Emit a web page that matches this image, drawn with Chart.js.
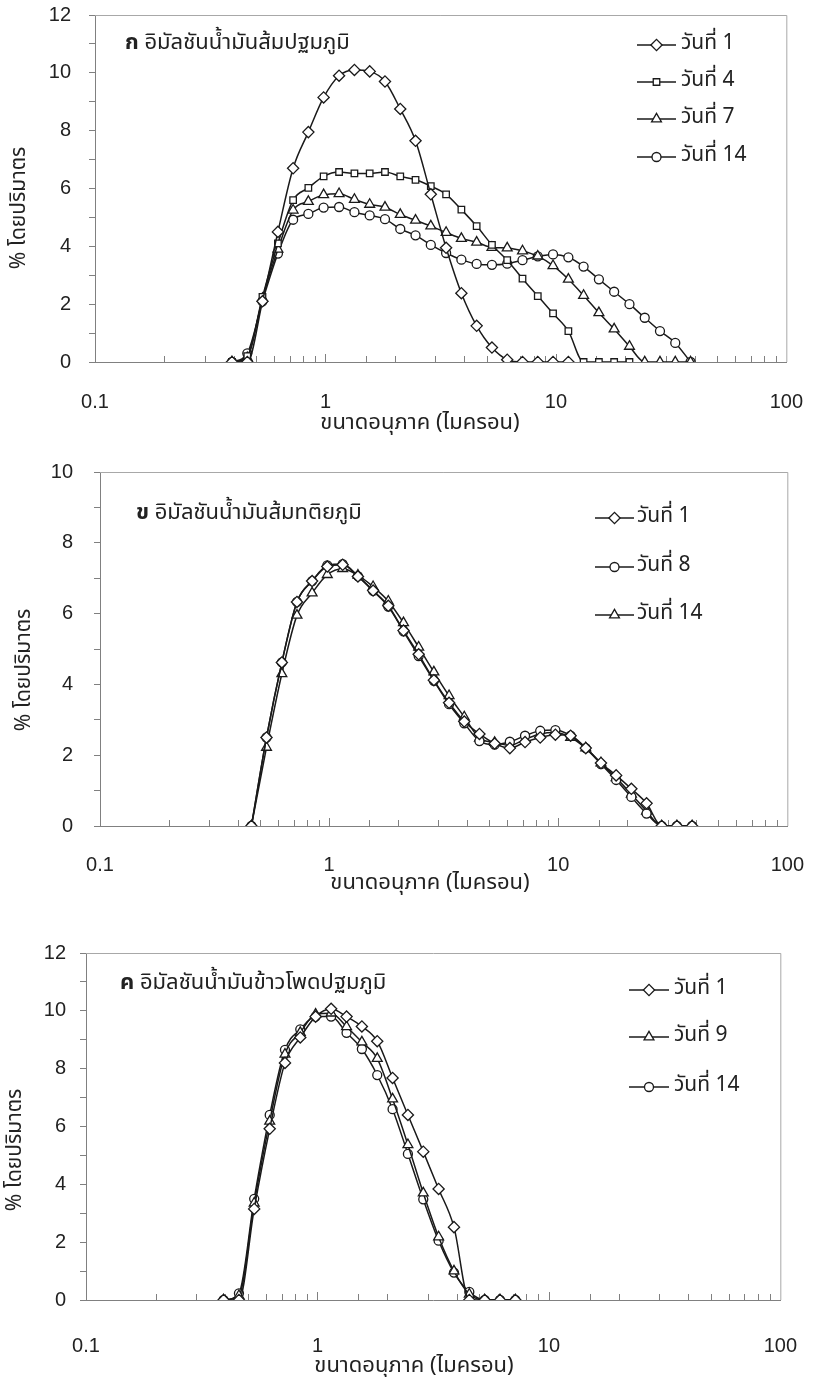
<!DOCTYPE html>
<html><head><meta charset="utf-8">
<script src="https://cdn.jsdelivr.net/npm/chart.js@4.4.0/dist/chart.umd.min.js"></script>
<style>
html,body{margin:0;padding:0;background:#fff;width:823px;height:1377px;overflow:hidden;position:relative}
canvas{position:absolute;left:0}
</style></head><body>
<canvas id="c1"></canvas>
<canvas id="c2"></canvas>
<canvas id="c3"></canvas>
<script>
// particle size bins (micron)
const sizes = [0.393,0.458,0.533,0.622,0.724,0.843,0.982,1.146,1.336,1.556,1.813,2.112,2.46,2.866,3.339,3.89,4.531,5.279,6.149,7.164,8.345,9.72,11.33,13.19,15.37,17.9,20.86,24.3,28.3,32.97,38.41];
const xTickLabels = [0.1, 1, 10, 100];

// Chart ก (starts at sizes[0])
const a_day1  = [0,0,2.1,4.5,6.7,7.95,9.15,9.9,10.1,10.05,9.7,8.75,7.65,5.8,3.95,2.38,1.25,0.5,0.08,0,0,0,0];
const a_day4  = [0,0.2,2.25,4.1,5.6,6.02,6.42,6.57,6.52,6.52,6.57,6.42,6.3,6.08,5.8,5.27,4.7,4.05,3.52,2.88,2.28,1.68,1.07,0,0,0,0];
const a_day7  = [0,0.15,2.2,3.9,5.25,5.55,5.78,5.82,5.62,5.45,5.35,5.1,4.9,4.7,4.48,4.27,4.14,3.96,3.94,3.84,3.66,3.33,2.86,2.3,1.7,1.14,0.54,0,0,0,0];
const a_day14 = [0,0.3,2.1,3.75,4.92,5.12,5.34,5.36,5.18,5.07,4.94,4.6,4.38,4.05,3.77,3.54,3.39,3.36,3.4,3.52,3.65,3.72,3.62,3.3,2.86,2.43,2.0,1.53,1.07,0.66,0];
// Chart ข (starts at sizes[1])
const b_day1  = [0,2.5,4.62,6.33,6.92,7.33,7.38,7.05,6.65,6.22,5.52,4.85,4.12,3.48,2.95,2.6,2.33,2.2,2.37,2.5,2.58,2.55,2.2,1.78,1.43,1.05,0.64,0,0,0];
const b_day8  = [0,2.5,4.62,6.33,6.92,7.36,7.4,7.06,6.64,6.2,5.5,4.8,4.1,3.44,2.9,2.4,2.3,2.38,2.55,2.69,2.71,2.55,2.2,1.75,1.3,0.82,0.35,0,0,0];
const b_day14 = [0,2.22,4.3,5.95,6.58,7.1,7.27,7.08,6.76,6.35,5.74,5.05,4.35,3.68,3.08,2.48,2.36,2.28,2.45,2.6,2.64,2.5,2.2,1.78,1.36,0.9,0.42,0,0,0];
// Chart ค (starts at sizes[0])
const c_day1  = [0,0,3.15,5.92,8.2,9.08,9.8,10.07,9.8,9.46,8.95,7.68,6.4,5.13,3.84,2.52,0,0,0,0];
const c_day9  = [0,0.15,3.35,6.18,8.5,9.25,9.88,9.92,9.45,8.92,8.35,6.95,5.37,3.7,2.18,1.0,0.2,0,0,0];
const c_day14 = [0,0.23,3.5,6.4,8.65,9.36,9.8,9.8,9.24,8.68,7.78,6.6,5.05,3.48,2.05,0.95,0.28,0,0,0];

const NUMF = "'Liberation Sans', Arial, sans-serif";
const THF = "'Noto Sans Thai','Loma','Garuda','Norasi','Tlwg Typo','Noto Sans','DejaVu Sans',sans-serif";
const INK = '#1a1a1a';

function pts(vals, start){ return vals.map((v,i)=>({x:sizes[start+i], y:v})); }

const STYLE = {
  diamond:{pointStyle:'rectRot', pointRadius:5.6},
  square:{pointStyle:'rect', pointRadius:4.6},
  triangle:{pointStyle:'triangle', pointRadius:5.7},
  circle:{pointStyle:'circle', pointRadius:4.5}
};

function ds(label, data, shape){
  return Object.assign({
    label, data,
    borderColor:INK, borderWidth:1.5,
    pointBackgroundColor:'#fff', pointBorderColor:INK, pointBorderWidth:1.3,
    cubicInterpolationMode:'monotone', fill:false
  }, STYLE[shape], {pointHoverRadius:STYLE[shape].pointRadius});
}

// all positions in cfg are page coordinates
function make(id, cfg){
  const cv = document.getElementById(id);
  const T = cfg.canvasTop, H = cfg.canvasBottom - T;
  cv.width = 823; cv.height = H; cv.style.top = T + 'px';
  const deco = {
    id:'deco'+id,
    beforeDatasetsDraw(chart){
      const ctx = chart.ctx, ca = chart.chartArea, xs = chart.scales.x;
      ctx.save();
      ctx.strokeStyle = '#a8a8a8'; ctx.lineWidth = 1;
      ctx.beginPath();
      ctx.moveTo(ca.left, ca.top+0.5); ctx.lineTo(ca.right+0.5, ca.top+0.5); ctx.lineTo(ca.right+0.5, ca.bottom);
      ctx.stroke();
      ctx.strokeStyle = '#808080';
      ctx.beginPath();
      xs.ticks.forEach(t=>{
        const v = t.value;
        if (v <= 0.1 || v >= 100) return;
        const lg = Math.log10(v);
        const major = Math.abs(lg - Math.round(lg)) < 1e-6;
        const px = Math.round(xs.getPixelForValue(v)) + 0.5;
        ctx.moveTo(px, ca.bottom);
        ctx.lineTo(px, ca.bottom - (major ? 8 : 6));
      });
      ctx.stroke();
      ctx.restore();
    },
    afterDraw(chart){
      const ctx = chart.ctx;
      ctx.save();
      ctx.translate(0, -T);
      ctx.fillStyle = '#222';
      ctx.font = "22px " + THF;
      ctx.textAlign = 'center'; ctx.textBaseline = 'middle';
      ctx.fillText('ขนาดอนุภาค (ไมครอน)', cfg.xTitle[0], cfg.xTitle[1]);
      ctx.font = "21px " + THF;
      ctx.save();
      ctx.translate(cfg.yTitle[0], cfg.yTitle[1]);
      ctx.rotate(-Math.PI/2);
      ctx.fillText('% โดยปริมาตร', 0, 0);
      ctx.restore();
      ctx.textAlign = 'left';
      ctx.font = "bold 22px " + THF;
      ctx.fillText(cfg.tag, cfg.title[0], cfg.title[1]);
      const w = ctx.measureText(cfg.tag + ' ').width;
      ctx.font = "22px " + THF;
      ctx.fillText(cfg.titleText, cfg.title[0] + w, cfg.title[1]);
      chart.data.datasets.forEach((d, i)=>{
        const y = cfg.legend.y[i];
        const [x1, x2, xt] = cfg.legend.x;
        ctx.strokeStyle = INK; ctx.lineWidth = 1.5;
        ctx.beginPath(); ctx.moveTo(x1, y); ctx.lineTo(x2, y); ctx.stroke();
        ctx.fillStyle = '#fff'; ctx.strokeStyle = INK; ctx.lineWidth = 1.3;
        Chart.helpers.drawPoint(ctx, {pointStyle:d.pointStyle, radius:d.pointRadius, borderWidth:1.3, rotation:0}, (x1+x2)/2, y);
        ctx.fillStyle = '#222';
        ctx.font = "21px " + THF;
        ctx.textAlign = 'left'; ctx.textBaseline = 'middle';
        ctx.fillText(d.label, xt, y);
      });
      ctx.restore();
    }
  };
  return new Chart(cv, {
    type:'line',
    data:{datasets:cfg.datasets},
    options:{
      responsive:false, animation:false, events:[],
      layout:{padding:{left:0, right:823-cfg.right, top:cfg.top - T, bottom:0}},
      plugins:{legend:{display:false}, tooltip:{enabled:false}},
      scales:{
        x:{type:'logarithmic', min:0.1, max:100,
          afterFit(s){ s.height = cfg.canvasBottom - cfg.bottom; },
          grid:{display:false},
          border:{display:true, color:'#808080', width:1},
          ticks:{autoSkip:false, maxRotation:0, padding:cfg.xPad, color:'#222',
            font:{family:NUMF, size:20},
            callback(v){ return xTickLabels.some(t=>Math.abs(t-v)/t<1e-6) ? String(v) : ''; }}
        },
        y:{min:0, max:cfg.yMax,
          afterFit(s){ s.width = cfg.left; },
          grid:{display:true, drawOnChartArea:false, drawTicks:true, tickLength:6, color:'#808080'},
          border:{display:true, color:'#808080', width:1},
          ticks:{stepSize:1, padding:cfg.yPad, color:'#222', font:{family:NUMF, size:20},
            callback(v){ return v % 2 === 0 ? String(v) : ''; }}
        }
      }
    },
    plugins:[deco]
  });
}

make('c1', {
  canvasTop:-25, canvasBottom:440,
  left:95, right:805, top:15, bottom:362, yMax:12, xPad:20, yPad:18,
  datasets:[ds('วันที่ 1', pts(a_day1,0),'diamond'), ds('วันที่ 4', pts(a_day4,0),'square'),
            ds('วันที่ 7', pts(a_day7,0),'triangle'), ds('วันที่ 14', pts(a_day14,0),'circle')],
  tag:'ก', titleText:'อิมัลชันน้ำมันส้มปฐมภูมิ', title:[125,45],
  legend:{x:[637,676,681], y:[45,82,119,157]},
  xTitle:[420,425], yTitle:[21,208]
});
make('c2', {
  canvasTop:430, canvasBottom:905,
  left:100, right:791, top:472, bottom:826, yMax:10, xPad:19, yPad:21,
  datasets:[ds('วันที่ 1', pts(b_day1,1),'diamond'), ds('วันที่ 8', pts(b_day8,1),'circle'),
            ds('วันที่ 14', pts(b_day14,1),'triangle')],
  tag:'ข', titleText:'อิมัลชันน้ำมันส้มทติยภูมิ', title:[136,515],
  legend:{x:[595,634,637], y:[518,567,615]},
  xTitle:[430,885], yTitle:[26,670]
});
make('c3', {
  canvasTop:905, canvasBottom:1377,
  left:86, right:799, top:953, bottom:1300, yMax:12, xPad:26, yPad:14,
  datasets:[ds('วันที่ 1', pts(c_day1,0),'diamond'), ds('วันที่ 9', pts(c_day9,0),'triangle'),
            ds('วันที่ 14', pts(c_day14,0),'circle')],
  tag:'ค', titleText:'อิมัลชันน้ำมันข้าวโพดปฐมภูมิ', title:[120,985],
  legend:{x:[629,669,674], y:[990,1037,1087]},
  xTitle:[414,1368], yTitle:[17,1150]
});
</script>
</body></html>
